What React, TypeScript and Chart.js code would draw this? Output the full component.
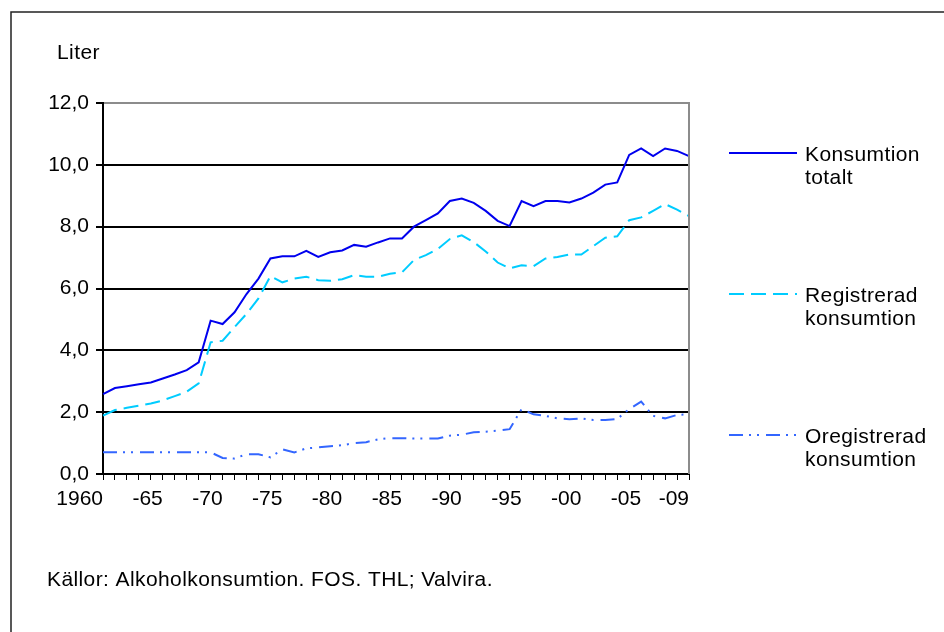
import React, { useEffect, useRef } from 'react';
import { Chart, registerables } from 'chart.js';

Chart.register(...registerables);

const years = [
  '1960', '1961', '1962', '1963', '1964', '1965', '1966', '1967', '1968', '1969',
  '1970', '1971', '1972', '1973', '1974', '1975', '1976', '1977', '1978', '1979',
  '1980', '1981', '1982', '1983', '1984', '1985', '1986', '1987', '1988', '1989',
  '1990', '1991', '1992', '1993', '1994', '1995', '1996', '1997', '1998', '1999',
  '2000', '2001', '2002', '2003', '2004', '2005', '2006', '2007', '2008', '2009',
];

const xTickYears = ['1960', '1965', '1970', '1975', '1980', '1985', '1990', '1995', '2000', '2005', '2009'];
const xTickText = ['1960', '-65', '-70', '-75', '-80', '-85', '-90', '-95', '-00', '-05', '-09'];

const totalSeries = [
  2.58, 2.78, 2.84, 2.9, 2.96, 3.09, 3.22, 3.36, 3.61, 4.96,
  4.85, 5.23, 5.82, 6.32, 6.97, 7.04, 7.04, 7.22, 7.02, 7.17,
  7.23, 7.41, 7.35, 7.49, 7.62, 7.62, 8.0, 8.21, 8.43, 8.83,
  8.91, 8.77, 8.51, 8.19, 8.02, 8.83, 8.66, 8.83, 8.83, 8.78,
  8.91, 9.1, 9.36, 9.43, 10.32, 10.53, 10.28, 10.53, 10.45, 10.28,
];

const registeredSeries = [
  1.89, 2.07, 2.14, 2.21, 2.28, 2.38, 2.52, 2.66, 2.93, 4.26,
  4.31, 4.75, 5.18, 5.68, 6.4, 6.2, 6.32, 6.38, 6.27, 6.25,
  6.3, 6.43, 6.38, 6.38, 6.48, 6.52, 6.92, 7.08, 7.28, 7.6,
  7.72, 7.5, 7.2, 6.84, 6.65, 6.75, 6.72, 6.97, 7.02, 7.1,
  7.1, 7.37, 7.64, 7.69, 8.21, 8.3, 8.51, 8.73, 8.55, 8.34,
];

const unregisteredSeries = [
  0.7, 0.7, 0.7, 0.7, 0.7, 0.7, 0.7, 0.7, 0.7, 0.7,
  0.52, 0.5, 0.64, 0.64, 0.54, 0.8, 0.7, 0.83, 0.86, 0.9,
  0.93, 1.0, 1.03, 1.12, 1.16, 1.16, 1.15, 1.15, 1.15, 1.24,
  1.27, 1.35, 1.37, 1.4, 1.45, 2.1, 1.93, 1.88, 1.8, 1.77,
  1.8, 1.75, 1.75, 1.78, 2.1, 2.34, 1.88, 1.8, 1.91, 1.93,
];

const seriesNames = [
  ['Konsumtion', 'totalt'],
  ['Registrerad', 'konsumtion'],
  ['Oregistrerad', 'konsumtion'],
];
const seriesColors = ['#0000ee', '#00ccff', '#3366ff'];
const seriesDashes: number[][] = [[], [15, 7], [14, 6, 2, 6, 2, 7]];

const yUnit = 'Liter';
const sourceText = 'Källor: Alkoholkonsumtion. FOS. THL; Valvira.';

const FONT = "'Liberation Sans', Arial, sans-serif";
const FS = 21;

const decorPlugin = {
  id: 'decor',
  afterDraw(chart: any) {
    const { ctx, chartArea } = chart;
    ctx.save();
    // outer frame
    ctx.strokeStyle = '#222';
    ctx.lineWidth = 1.5;
    ctx.beginPath();
    ctx.moveTo(11, 640);
    ctx.lineTo(11, 12);
    ctx.lineTo(950, 12);
    ctx.stroke();
    // right plot border
    ctx.strokeStyle = '#8c8c8c';
    ctx.lineWidth = 2;
    ctx.beginPath();
    ctx.moveTo(chartArea.right, chartArea.top - 1);
    ctx.lineTo(chartArea.right, chartArea.bottom);
    ctx.stroke();
    // texts
    ctx.fillStyle = '#000';
    ctx.font = `${FS}px ${FONT}`;
    try { (ctx as any).letterSpacing = '0.4px'; } catch (e) { /* ignore */ }
    ctx.textBaseline = 'middle';
    ctx.textAlign = 'left';
    ctx.fillText(yUnit, 57, 53);
    ctx.fillText(sourceText, 47, 580);
    // legend
    const legendY = [153, 294, 435];
    chart.data.datasets.forEach((ds: any, i: number) => {
      const y = legendY[i];
      ctx.strokeStyle = ds.borderColor;
      ctx.lineWidth = 2;
      ctx.setLineDash(ds.borderDash || []);
      ctx.beginPath();
      ctx.moveTo(729, y);
      ctx.lineTo(797, y);
      ctx.stroke();
      ctx.setLineDash([]);
      const lines = seriesNames[i];
      lines.forEach((t, j) => {
        ctx.fillText(t, 805, y + 2 + j * 23.5);
      });
    });
    ctx.restore();
  },
};

export default function App() {
  const ref = useRef<HTMLCanvasElement | null>(null);
  useEffect(() => {
    if (!ref.current) return;
    const chart = new Chart(ref.current, {
      type: 'line',
      data: {
        labels: years,
        datasets: [
          { label: seriesNames[0].join(' '), data: totalSeries, borderColor: seriesColors[0], borderDash: seriesDashes[0] },
          { label: seriesNames[1].join(' '), data: registeredSeries, borderColor: seriesColors[1], borderDash: seriesDashes[1] },
          { label: seriesNames[2].join(' '), data: unregisteredSeries, borderColor: seriesColors[2], borderDash: seriesDashes[2] },
        ].map((d) => ({ ...d, borderWidth: 2, pointRadius: 0, tension: 0, fill: false })),
      },
      options: {
        responsive: false,
        animation: false,
        devicePixelRatio: 1,
        layout: { padding: { top: 103, right: 255, left: 0, bottom: 0 } },
        plugins: { legend: { display: false }, tooltip: { enabled: false }, title: { display: false } },
        scales: {
          x: {
            type: 'category',
            offset: false,
            border: { display: true, color: '#000', width: 2 },
            grid: { display: true, drawOnChartArea: false, drawTicks: true, tickLength: 6, color: '#000', lineWidth: 1 },
            ticks: {
              autoSkip: false,
              maxRotation: 0,
              minRotation: 0,
              align: 'end',
              padding: 7,
              color: '#000',
              font: { family: FONT, size: FS },
              callback: (_v: any, i: number) => {
                const k = xTickYears.indexOf(years[i]);
                return k >= 0 ? xTickText[k] : '';
              },
            },
            afterFit: (s: any) => { s.height = 158; },
          },
          y: {
            min: 0,
            max: 12,
            border: { display: true, color: '#000', width: 2 },
            grid: {
              color: (c: any) => (c.tick && c.tick.value === 12 ? '#8c8c8c' : '#000'),
              tickColor: '#000',
              lineWidth: 2,
              tickLength: 7,
            },
            ticks: {
              stepSize: 2,
              padding: 7,
              color: '#000',
              font: { family: FONT, size: FS },
              callback: (v: any) => Number(v).toFixed(1).replace('.', ','),
            },
            afterFit: (s: any) => { s.width = 103; },
          },
        },
      },
      plugins: [decorPlugin],
    } as any);
    return () => chart.destroy();
  }, []);
  return (
    <div style={{ position: 'absolute', left: 0, top: 0, width: 944, height: 632, background: '#fff' }}>
      <canvas ref={ref} width={944} height={632} style={{ display: 'block' }} />
    </div>
  );
}
